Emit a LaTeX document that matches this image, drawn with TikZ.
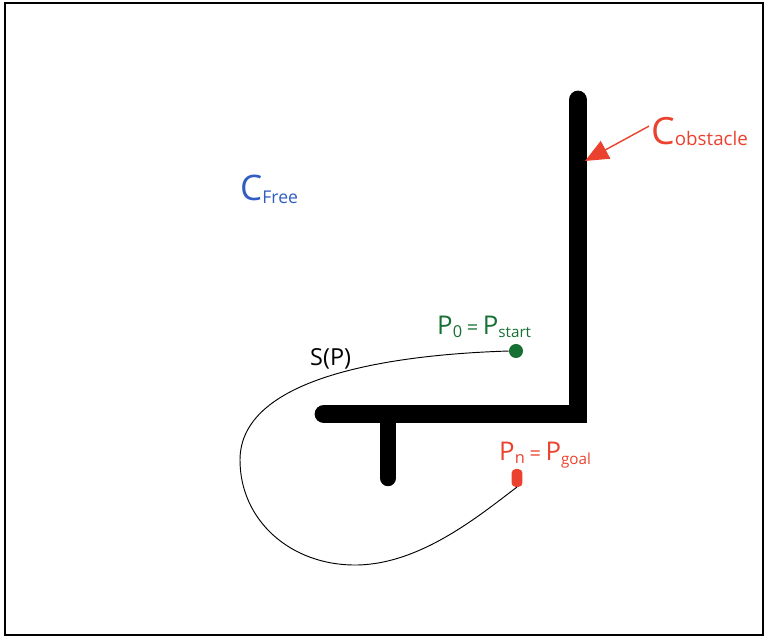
\documentclass[tikz,border=0pt]{standalone}
\usepackage{fontspec}
\setmainfont{Open Sans}
\usetikzlibrary{arrows.meta, positioning}
\definecolor{obsred}{RGB}{234,66,46}
\definecolor{freeblue}{RGB}{48,92,196}
\definecolor{startgreen}{RGB}{22,112,52}
\newcommand{\hsub}[3]{\raisebox{-#2}{\fontsize{#1}{#1}\selectfont #3}}
\newcommand{\eqsign}{\hspace{4pt}{\fontsize{17}{17}\selectfont =}\hspace{4pt}}
\tikzset{
    wall/.style={line width=16, line cap=round, black},
    lbl/.style={inner sep=0pt, anchor=base west},
}
\begin{document}
\begin{tikzpicture}[x=0.03cm, y=-0.03cm]

  % Rahmen
  \useasboundingbox (0,0) rectangle (767,639);
  \draw[line width=2.5pt] (5,3) rectangle (763,635);

  % Hindernis
  \coordinate (wtop) at (578,100);
  \coordinate (wcorner) at (578,414);
  \coordinate (wleft) at (324,414);
  \coordinate (stemtop) at (388,414);
  \coordinate (stembot) at (388,478);
  \draw[wall] (wtop) -- (wcorner) -- (wleft);
  \draw[wall, line width=14] (stemtop) -- (stembot);

  % Beschriftungen
  \node[lbl, freeblue] (cfree) at (240,200)
    {{\fontsize{30}{30}\selectfont C}\hsub{15}{3pt}{Free}};
  \node[lbl, obsred] (cobs) at (651,144)
    {{\fontsize{32}{32}\selectfont C}\hsub{16}{1pt}{obstacle}};
  \node[lbl] (sp) at (310,365) {\fontsize{20}{20}\selectfont S(P)};

  % Start und Ziel
  \node[circle, fill=startgreen, inner sep=0pt, minimum size=12] (start) at (516,351) {};
  \node[rectangle, rounded corners=3, fill=obsred, inner sep=0pt,
        minimum width=9, minimum height=15] (goal) at (517,478) {};
  \node[lbl, startgreen] (startlbl) at (437,334)
    {{\fontsize{22}{22}\selectfont P}\hsub{14}{3pt}{0}\eqsign{\fontsize{22}{22}\selectfont P}\hsub{13}{3pt}{start}};
  \node[lbl, obsred] (goallbl) at (499,460)
    {{\fontsize{22}{22}\selectfont P}\hsub{14}{3pt}{n}\eqsign{\fontsize{22}{22}\selectfont P}\hsub{13}{4pt}{goal}};

  % Pfeil zum Hindernis
  \coordinate (hit) at (585,161);
  \draw[obsred, line width=1.2pt, -{Triangle[length=20pt, width=17pt]}]
    (cobs.west) ++(-2,-5) -- (hit);

  % Pfad S(P)
  \draw[line width=0.8pt] (start.west)
    .. controls (380,355) and (240,380) .. (240,460)
    .. controls (240,520) and (290,565) .. (355,565)
    .. controls (420,565) and (480,515) .. (goal.south);

\end{tikzpicture}
\end{document}
